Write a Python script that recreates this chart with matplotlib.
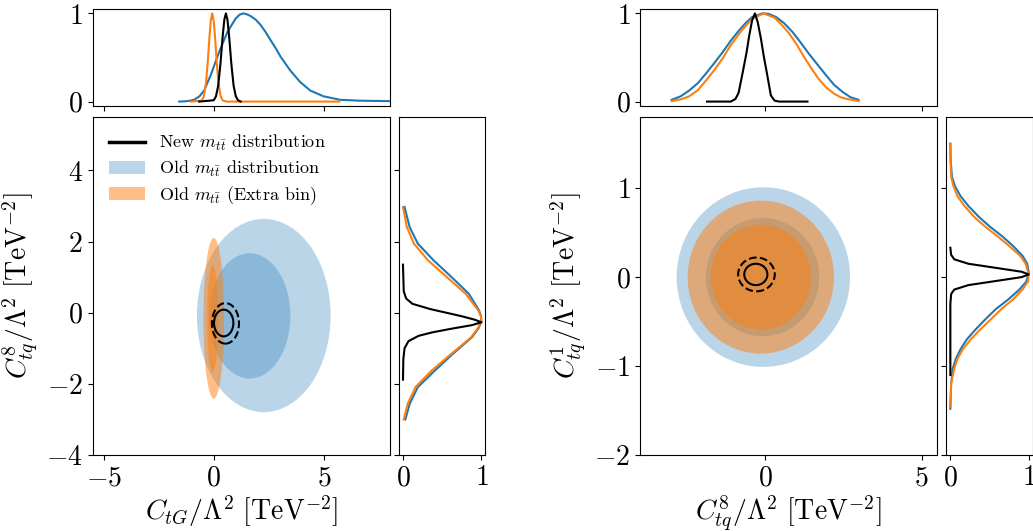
import matplotlib
matplotlib.use('Agg')
import matplotlib.pyplot as plt
from matplotlib.patches import Ellipse, Patch
from matplotlib.lines import Line2D

# --- fuentes estilo LaTeX ---
plt.rcParams['font.family'] = 'serif'
plt.rcParams['font.serif'] = ['cmr10']
plt.rcParams['mathtext.fontset'] = 'cm'
plt.rcParams['axes.formatter.use_mathtext'] = True
plt.rcParams['axes.unicode_minus'] = True

BLUE = '#1f77b4'
ORANGE = '#ff7f0e'

# ============================================================
# --- 1. DATOS: C_tG vs C8_tq ---
# ============================================================

# marginal superior (C_tG)
ctg_new_x = [-0.66, 0.0, 0.1, 0.2, 0.3, 0.4, 0.48, 0.55, 0.62, 0.7, 0.8, 0.9, 1.0, 1.1, 1.22]
ctg_new_p = [0.0, 0.015, 0.06, 0.18, 0.42, 0.73, 0.93, 1.0, 0.93, 0.73, 0.42, 0.18, 0.06, 0.015, 0.0]
ctg_old_x = [-1.57, -1.2, -0.89, -0.65, -0.44, -0.14, 0.24, 0.62, 0.99, 1.17, 1.34, 1.5, 1.67,
             1.9, 2.12, 2.35, 2.57, 2.8, 3.03, 3.48, 3.93, 4.38, 4.98, 5.74, 6.64, 8.0]
ctg_old_p = [0.0, 0.005, 0.02, 0.06, 0.125, 0.30, 0.56, 0.79, 0.94, 0.985, 1.0, 0.99, 0.97,
             0.93, 0.87, 0.79, 0.70, 0.61, 0.51, 0.35, 0.22, 0.125, 0.06, 0.02, 0.01, 0.005]
ctg_extra_x = [-1.04, -0.55, -0.45, -0.35, -0.27, -0.2, -0.14, -0.07, 0.0, 0.06, 0.13, 0.21, 0.31, 0.41, 0.6, 5.7]
ctg_extra_p = [0.0, 0.011, 0.06, 0.22, 0.46, 0.72, 0.91, 1.0, 0.91, 0.72, 0.46, 0.22, 0.06, 0.011, 0.0, 0.0]

# marginal derecha (C8_tq)
c8_old_y = [2.97, 2.40, 1.94, 1.47, 1.0, 0.53, 0.065, -0.1, -0.26, -0.45, -0.69, -1.15, -1.62, -2.09, -2.56, -3.0]
c8_old_p = [0.02, 0.086, 0.19, 0.39, 0.62, 0.84, 0.97, 0.995, 1.0, 0.96, 0.88, 0.64, 0.41, 0.19, 0.086, 0.03]
c8_extra_y = [2.97, 2.40, 1.94, 1.47, 1.0, 0.53, 0.065, -0.1, -0.26, -0.45, -0.69, -1.15, -1.62, -2.09, -2.56, -3.0]
c8_extra_p = [0.0, 0.05, 0.14, 0.32, 0.56, 0.80, 0.96, 0.995, 1.0, 0.95, 0.87, 0.62, 0.37, 0.16, 0.06, 0.01]
c8_new_y = [1.35, 0.6, 0.4, 0.25, 0.1, 0.0, -0.1, -0.2, -0.27, -0.35, -0.45, -0.55, -0.65, -0.8, -1.0, -1.3, -1.88]
c8_new_p = [0.0, 0.01, 0.04, 0.12, 0.35, 0.55, 0.75, 0.92, 1.0, 0.88, 0.62, 0.38, 0.2, 0.07, 0.02, 0.005, 0.0]

# regiones 2sigma / 1sigma (centro x, centro y, ancho, alto)
ctg_old_cx, ctg_old_cy = [2.27, 1.63], [-0.08, -0.09]
ctg_old_w, ctg_old_h = [6.07, 3.7], [5.43, 3.52]
ctg_extra_cx, ctg_extra_cy = [0.0, -0.05], [-0.16, -0.16]
ctg_extra_w, ctg_extra_h = [0.94, 0.5], [4.52, 3.02]
ctg_new_cx, ctg_new_cy = [0.53, 0.45], [-0.3, -0.29]
ctg_new_w, ctg_new_h = [1.23, 0.88], [1.14, 0.75]

# ============================================================
# --- 2. DATOS: C8_tq vs C1_tq ---
# ============================================================

c8t_old_x = [-2.99, -2.7, -2.43, -2.15, -1.89, -1.62, -1.36, -1.1, -0.83, -0.6, -0.41, -0.09, 0.1,
             0.34, 0.6, 0.87, 1.13, 1.40, 1.67, 1.94, 2.2, 2.47, 2.72, 2.98]
c8t_old_p = [0.02, 0.06, 0.125, 0.21, 0.32, 0.44, 0.56, 0.69, 0.81, 0.9, 0.96, 1.0, 0.995,
             0.96, 0.89, 0.79, 0.67, 0.54, 0.42, 0.30, 0.19, 0.11, 0.05, 0.02]
c8t_extra_x = [-2.99, -2.7, -2.43, -2.15, -1.89, -1.62, -1.36, -1.1, -0.83, -0.6, -0.41, -0.05, 0.3,
               0.5, 0.75, 1.0, 1.2, 1.45, 1.7, 1.95, 2.2, 2.4, 2.6, 2.99]
c8t_extra_p = [0.005, 0.025, 0.06, 0.13, 0.24, 0.36, 0.49, 0.64, 0.77, 0.87, 0.94, 1.0, 0.95,
               0.88, 0.78, 0.65, 0.53, 0.39, 0.26, 0.16, 0.09, 0.05, 0.03, 0.005]
c8t_new_x = [-1.86, -1.1, -0.95, -0.85, -0.72, -0.6, -0.51, -0.42, -0.33, -0.24, -0.14, -0.04, 0.05, 0.18, 0.3, 0.45, 1.35]
c8t_new_p = [0.0, 0.0, 0.03, 0.1, 0.33, 0.55, 0.75, 0.92, 1.0, 0.9, 0.72, 0.5, 0.33, 0.07, 0.01, 0.0, 0.0]

c1_old_y = [1.50, 1.3, 1.13, 1.02, 0.91, 0.8, 0.68, 0.57, 0.46, 0.35, 0.24, 0.15, 0.05, -0.05,
            -0.14, -0.25, -0.36, -0.48, -0.59, -0.7, -0.81, -0.92, -1.03, -1.2, -1.48]
c1_old_p = [0.0, 0.005, 0.02, 0.06, 0.13, 0.23, 0.36, 0.5, 0.66, 0.8, 0.92, 0.98, 1.0, 0.97,
            0.88, 0.74, 0.58, 0.44, 0.32, 0.21, 0.13, 0.07, 0.03, 0.01, 0.0]
c1_extra_y = [1.49, 1.3, 1.13, 1.02, 0.91, 0.8, 0.68, 0.57, 0.46, 0.35, 0.24, 0.15, 0.03, -0.05,
              -0.14, -0.25, -0.36, -0.48, -0.59, -0.7, -0.81, -0.92, -1.03, -1.2, -1.45]
c1_extra_p = [0.0, 0.002, 0.01, 0.04, 0.09, 0.18, 0.30, 0.44, 0.60, 0.75, 0.89, 0.96, 1.0, 0.99,
              0.92, 0.80, 0.65, 0.51, 0.38, 0.26, 0.16, 0.09, 0.05, 0.01, 0.0]
c1_new_y = [0.33, 0.25, 0.2, 0.15, 0.1, 0.06, 0.03, 0.0, -0.04, -0.09, -0.14, -0.19, -0.3, -1.1]
c1_new_p = [0.0, 0.01, 0.05, 0.23, 0.61, 0.91, 1.0, 0.91, 0.61, 0.23, 0.05, 0.01, 0.0, 0.0]

c8t_old_cx, c8t_old_cy = [-0.06, -0.085], [0.0, 0.0]
c8t_old_w, c8t_old_h = [5.54, 3.62], [2.02, 1.33]
c8t_extra_cx, c8t_extra_cy = [-0.14, -0.14], [0.0, 0.0]
c8t_extra_w, c8t_extra_h = [4.68, 3.2], [1.72, 1.18]
c8t_new_cx, c8t_new_cy = [-0.28, -0.3], [0.03, 0.03]
c8t_new_w, c8t_new_h = [1.17, 0.74], [0.38, 0.24]

# ============================================================
# --- 3. FUNCIONES DE DIBUJO ---
# ============================================================

def rellenar(ax, cx, cy, w, h, color, alpha):
    # 2sigma primero, 1sigma encima (se acumula la transparencia)
    for i in range(len(cx)):
        ax.add_patch(Ellipse((cx[i], cy[i]), w[i], h[i], facecolor=color, edgecolor='none',
                             alpha=alpha, zorder=1))


def contorno(ax, cx, cy, w, h):
    estilos = ['--', '-']
    for i in range(len(cx)):
        ax.add_patch(Ellipse((cx[i], cy[i]), w[i], h[i], facecolor='none', edgecolor='black',
                             linestyle=estilos[i], linewidth=1.5, zorder=5))


def panel(x0, xlim, ylim, xticks, yticks, xlabel, ylabel):
    ax_top = fig.add_axes([x0, 0.8004, 0.2878, 0.1827])
    ax = fig.add_axes([x0, 0.1431, 0.2878, 0.6366], sharex=ax_top)
    ax_right = fig.add_axes([x0 + 0.2966, 0.1431, 0.0835, 0.6366], sharey=ax)
    ax.set_xlim(*xlim)
    ax.set_ylim(*ylim)
    ax.set_xticks(xticks)
    ax.set_yticks(yticks)
    ax.set_xlabel(xlabel, fontsize=20, labelpad=2)
    ax.set_ylabel(ylabel, fontsize=20)
    ax.tick_params(labelsize=20)
    ax_top.tick_params(labelbottom=False, labelsize=20)
    ax_top.set_yticks([0, 1])
    ax_right.tick_params(labelleft=False, labelsize=20)
    ax_right.set_xticks([0, 1])
    return ax_top, ax, ax_right


fig = plt.figure(figsize=(10.33, 5.31), dpi=100)

# --- panel izquierdo: C_tG vs C8_tq ---
ax_top, ax, ax_right = panel(0.0897, (-5.5, 8.0), (-4, 5.5), [-5, 0, 5], [-4, -2, 0, 2, 4],
                             r'$C_{tG}/\Lambda^2\ [\mathrm{TeV}^{-2}]$',
                             r'$C^{8}_{tq}/\Lambda^2\ [\mathrm{TeV}^{-2}]$')
rellenar(ax, ctg_old_cx, ctg_old_cy, ctg_old_w, ctg_old_h, BLUE, 0.3)
rellenar(ax, ctg_extra_cx, ctg_extra_cy, ctg_extra_w, ctg_extra_h, ORANGE, 0.5)
contorno(ax, ctg_new_cx, ctg_new_cy, ctg_new_w, ctg_new_h)

ax_top.plot(ctg_old_x, ctg_old_p, color=BLUE, lw=1.5)
ax_top.plot(ctg_extra_x, ctg_extra_p, color=ORANGE, lw=1.5)
ax_top.plot(ctg_new_x, ctg_new_p, color='black', lw=1.5)
ax_right.plot(c8_old_p, c8_old_y, color=BLUE, lw=1.5)
ax_right.plot(c8_extra_p, c8_extra_y, color=ORANGE, lw=1.5)
ax_right.plot(c8_new_p, c8_new_y, color='black', lw=1.5)

handles = [Line2D([], [], color='black', lw=2.5),
           Patch(facecolor=BLUE, alpha=0.3),
           Patch(facecolor=ORANGE, alpha=0.5)]
labels = [r'New $m_{t\bar{t}}$ distribution',
          r'Old $m_{t\bar{t}}$ distribution',
          r'Old $m_{t\bar{t}}$ (Extra bin)']
ax.legend(handles, labels, loc='upper left', frameon=False, fontsize=13, labelspacing=0.3)

# --- panel derecho: C8_tq vs C1_tq ---
ax_top, ax, ax_right = panel(0.6196, (-4.0, 5.5), (-2, 1.8), [0, 5], [-2, -1, 0, 1],
                             r'$C^{8}_{tq}/\Lambda^2\ [\mathrm{TeV}^{-2}]$',
                             r'$C^{1}_{tq}/\Lambda^2\ [\mathrm{TeV}^{-2}]$')
rellenar(ax, c8t_old_cx, c8t_old_cy, c8t_old_w, c8t_old_h, BLUE, 0.3)
rellenar(ax, c8t_extra_cx, c8t_extra_cy, c8t_extra_w, c8t_extra_h, ORANGE, 0.5)
contorno(ax, c8t_new_cx, c8t_new_cy, c8t_new_w, c8t_new_h)

ax_top.plot(c8t_old_x, c8t_old_p, color=BLUE, lw=1.5)
ax_top.plot(c8t_extra_x, c8t_extra_p, color=ORANGE, lw=1.5)
ax_top.plot(c8t_new_x, c8t_new_p, color='black', lw=1.5)
ax_right.plot(c1_old_p, c1_old_y, color=BLUE, lw=1.5)
ax_right.plot(c1_extra_p, c1_extra_y, color=ORANGE, lw=1.5)
ax_right.plot(c1_new_p, c1_new_y, color='black', lw=1.5)

fig.savefig('out.png', dpi=100)
plt.close(fig)
